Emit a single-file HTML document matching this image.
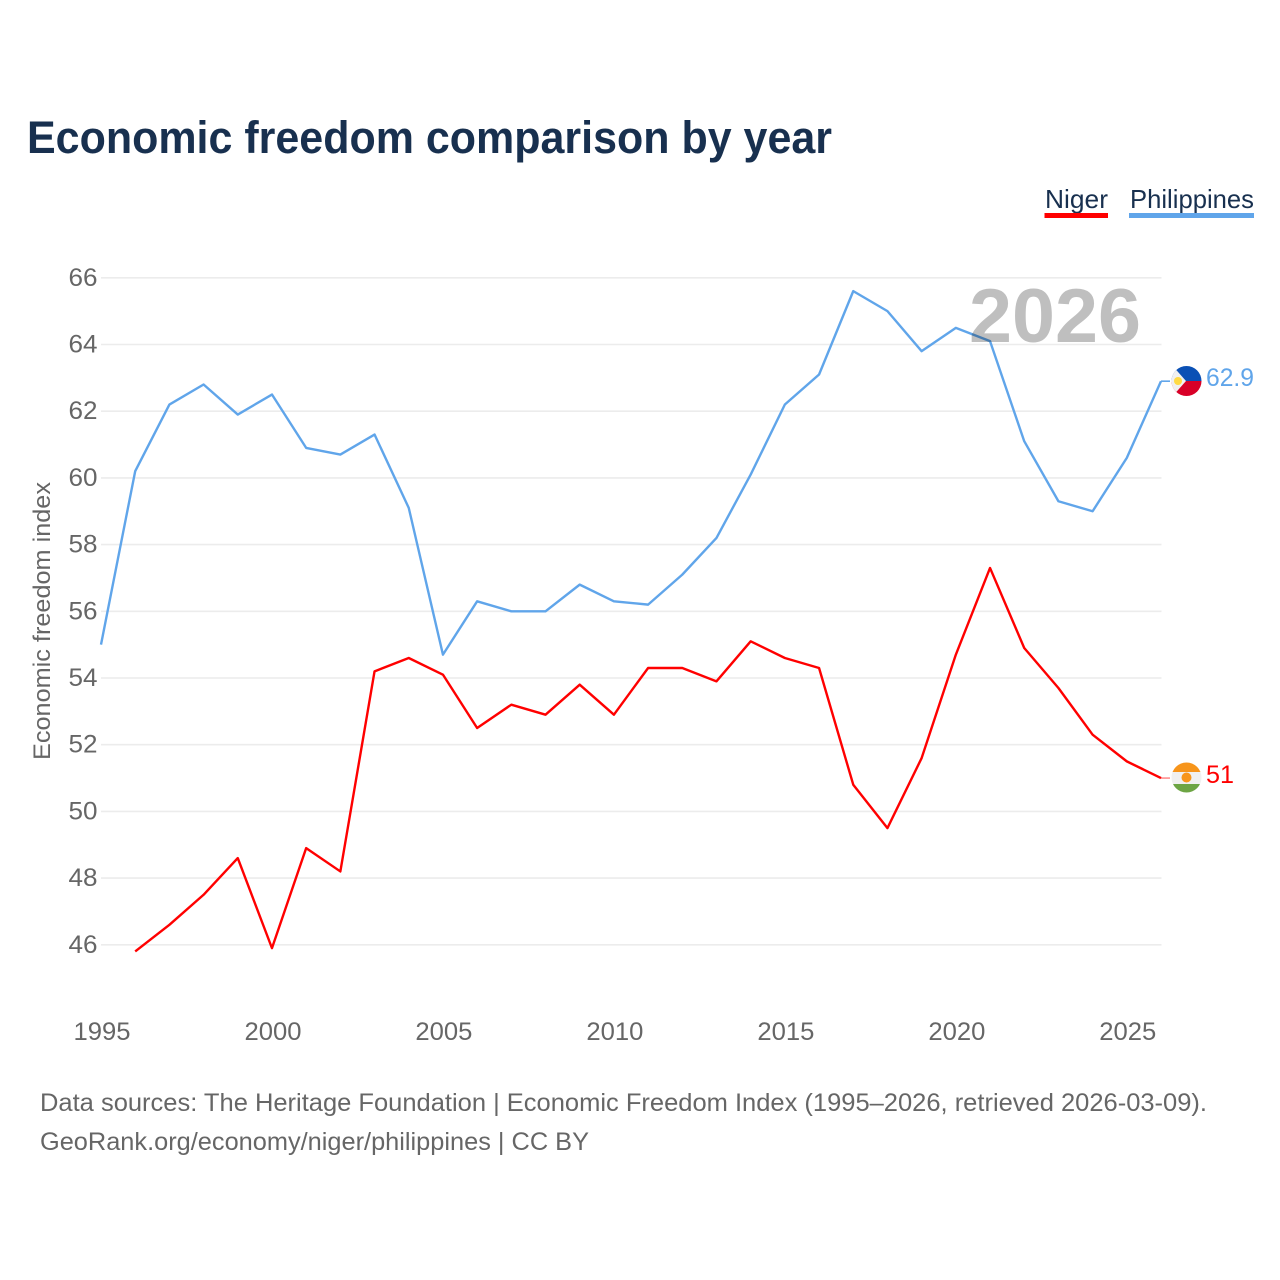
<!DOCTYPE html>
<html lang="en">
<head>
<meta charset="utf-8">
<title>Economic freedom comparison by year</title>
<style>
html,body{margin:0;padding:0;background:#fff}
svg{display:block}
text{font-family:"Liberation Sans",sans-serif}
</style>
</head>
<body>
<svg id="chart" xmlns="http://www.w3.org/2000/svg" width="1280" height="1280" viewBox="0 0 1280 1280">
  <rect width="1280" height="1280" fill="#fff"/>
  <text x="27" y="153" font-size="45" font-weight="700" fill="#18304f" textLength="805" lengthAdjust="spacingAndGlyphs">Economic freedom comparison by year</text>

  <g>
    <g>
      <text x="1045" y="208" font-size="26" fill="#18304f" textLength="63" lengthAdjust="spacingAndGlyphs">Niger</text>
      <rect x="1044.5" y="213" width="63.5" height="5" fill="#ff0000"/>
    </g>
    <g>
      <text x="1130" y="208" font-size="26" fill="#18304f" textLength="124" lengthAdjust="spacingAndGlyphs">Philippines</text>
      <rect x="1129" y="213" width="125" height="5" fill="#60a5ea"/>
    </g>
  </g>

  <g id="grid"></g>
  <g id="yticks"></g>
  <g id="xticks"></g>

  <text transform="translate(50,760) rotate(-90)" font-size="24" fill="#666" textLength="278" lengthAdjust="spacingAndGlyphs">Economic freedom index</text>

  <g id="series"></g>

  <text x="969" y="342" font-size="76" font-weight="700" fill="#bfbfbf" textLength="172" lengthAdjust="spacingAndGlyphs" style="mix-blend-mode:multiply">2026</text>

  <defs>
    <clipPath id="flag-clip-ph"><circle cx="1186.5" cy="381" r="15"/></clipPath>
    <clipPath id="flag-clip-ne"><circle cx="1186.5" cy="777.5" r="15"/></clipPath>
  </defs>

  <g clip-path="url(#flag-clip-ph)">
    <rect x="1171" y="366" width="31" height="15" fill="#0a50b5"/>
    <rect x="1171" y="381" width="31" height="16" fill="#d80027"/>
    <polygon points="1171,364 1186,381 1171,398" fill="#f0f0f0"/>
    <circle cx="1178" cy="381" r="4" fill="#ffda44"/>
  </g>

  <g clip-path="url(#flag-clip-ne)">
    <rect x="1171" y="762" width="31" height="10" fill="#f7951b"/>
    <rect x="1171" y="772" width="31" height="12" fill="#f0f0f0"/>
    <rect x="1171" y="784" width="31" height="10" fill="#6da544"/>
    <circle cx="1186.5" cy="777.5" r="5" fill="#f7951b"/>
  </g>

  <text id="label-ph" x="1206" y="386" font-size="25" fill="#60a5ea" textLength="48" lengthAdjust="spacingAndGlyphs"></text>
  <text id="label-ne" x="1206" y="783" font-size="25" fill="#ff0000" textLength="28" lengthAdjust="spacingAndGlyphs"></text>

  <g>
    <text x="40" y="1111" font-size="25" fill="#666" textLength="1167" lengthAdjust="spacingAndGlyphs">Data sources: The Heritage Foundation | Economic Freedom Index (1995–2026, retrieved 2026-03-09).</text>
    <text x="40" y="1150" font-size="25" fill="#666" textLength="549" lengthAdjust="spacingAndGlyphs">GeoRank.org/economy/niger/philippines | CC BY</text>
  </g>
</svg>
<script>
const years = [1995,1996,1997,1998,1999,2000,2001,2002,2003,2004,2005,2006,2007,2008,2009,2010,2011,2012,2013,2014,2015,2016,2017,2018,2019,2020,2021,2022,2023,2024,2025,2026];
const philippinesValues = [55.0,60.2,62.2,62.8,61.9,62.5,60.9,60.7,61.3,59.1,54.7,56.3,56.0,56.0,56.8,56.3,56.2,57.1,58.2,60.1,62.2,63.1,65.6,65.0,63.8,64.5,64.1,61.1,59.3,59.0,60.6,62.9];
const nigerValues = [null,45.8,46.6,47.5,48.6,45.9,48.9,48.2,54.2,54.6,54.1,52.5,53.2,52.9,53.8,52.9,54.3,54.3,53.9,55.1,54.6,54.3,50.8,49.5,51.6,54.7,57.3,54.9,53.7,52.3,51.5,51.0];
const yTickValues = [46,48,50,52,54,56,58,60,62,64,66];
const xTickValues = [1995,2000,2005,2010,2015,2020,2025];

const NS = 'http://www.w3.org/2000/svg';
function xScale(year){ return 101 + (year - 1995) * (1060 / 31); }
function yScale(value){ return 277.8 + (66 - value) * (667 / 20); }
function make(tag, parent, attrs){
  const el = document.createElementNS(NS, tag);
  for (const k in attrs) el.setAttribute(k, attrs[k]);
  parent.appendChild(el);
  return el;
}

const grid = document.getElementById('grid');
const yticks = document.getElementById('yticks');
const xticks = document.getElementById('xticks');
const series = document.getElementById('series');

yTickValues.forEach(function(v){
  const line = make('line', grid, {x1:101, x2:1161.5, y1:yScale(v), y2:yScale(v), stroke:'#ececec', 'stroke-width':1.6});
  
  
  const t = make('text', yticks, {x:97.5, y:yScale(v) + 8, 'text-anchor':'end', 'font-size':25, fill:'#666', textLength:29, lengthAdjust:'spacingAndGlyphs'});
  
  
  t.textContent = v;
});

xTickValues.forEach(function(y){
  const t = make('text', xticks, {x:xScale(y) + 1, y:1040, 'text-anchor':'middle', 'font-size':25, fill:'#666', textLength:57, lengthAdjust:'spacingAndGlyphs'});
  
  
  t.textContent = y;
});

function buildPath(values){
  let d = '';
  values.forEach(function(v, i){
    if (v === null) return;
    d += (d ? 'L' : 'M') + xScale(years[i]).toFixed(2) + ' ' + yScale(v).toFixed(2);
  });
  return d;
}

const philippinesLine = make('path', series, {d:buildPath(philippinesValues), fill:'none', stroke:'#60a5ea', 'stroke-width':2.4, 'stroke-linejoin':'round'});



const nigerLine = make('path', series, {d:buildPath(nigerValues), fill:'none', stroke:'#ff0000', 'stroke-width':2.4, 'stroke-linejoin':'round'});



const lastPh = philippinesValues[philippinesValues.length - 1];
const lastNe = nigerValues[nigerValues.length - 1];

const connectorPh = make('line', series, {x1:xScale(2026), x2:1170, y1:yScale(lastPh), y2:yScale(lastPh), stroke:'#60a5ea', 'stroke-width':1.6});



const connectorNe = make('line', series, {x1:xScale(2026), x2:1170, y1:yScale(lastNe), y2:yScale(lastNe), stroke:'#ff0000', 'stroke-width':1, opacity:0.7});



document.getElementById('label-ph').textContent = lastPh;
document.getElementById('label-ne').textContent = lastNe;
</script>
</body>
</html>
